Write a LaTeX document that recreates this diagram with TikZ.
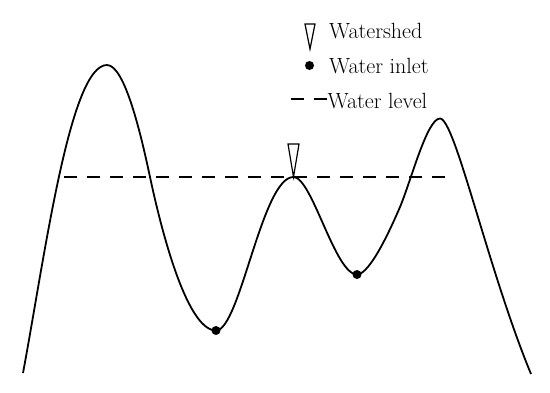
\documentclass[tikz,border=0pt]{standalone}
\usepackage{tikz}

\begin{document}
\begin{tikzpicture}[
    x=1pt, y=-1pt,
    ridge/.style={line width=1.8pt, line join=round},
    level/.style={line width=1.7pt, dash pattern=on 13.3pt off 9.7pt},
    inlet/.style={circle, fill=black, inner sep=0pt, minimum size=9pt},
    shed/.style={draw, line width=1.2pt, fill=white, line join=miter},
    legendtext/.style={anchor=base west, inner sep=0pt, font=\fontsize{22}{26}\selectfont}
]
\useasboundingbox (0,0) rectangle (550,392);

\coordinate (footL) at (23,373);
\coordinate (peakL) at (107,65);
\coordinate (lowA) at (216,330.5);
\coordinate (ridgetop) at (293.5,177);
\coordinate (lowB) at (357,274.5);
\coordinate (peakR) at (440,118.5);
\coordinate (footR) at (531,374);
\coordinate (levelL) at (64,177);
\coordinate (levelR) at (453,177);

% terrain profile
\draw[ridge] (footL) .. controls (45,255) and (70,65) .. (peakL)
    .. controls (125,65) and (141.5,137) .. (150,177)
    .. controls (158.5,217) and (185,330.5) .. (lowA)
    .. controls (240,330.5) and (262,177) .. (ridgetop)
    .. controls (312,177) and (335,274.5) .. (lowB)
    .. controls (370,274.5) and (391,228) .. (400,207)
    .. controls (411,181) and (427,118.5) .. (peakR)
    .. controls (455,118.5) and (488,270) .. (footR);

% water level
\draw[level] (levelL) -- (levelR);

% water inlets
\node[inlet] (inletA) at (lowA) {};
\node[inlet] (inletB) at (lowB) {};

% watershed marker
\draw[shed] (ridgetop) -- ++(-5.5,-33) -- ++(11,0) -- cycle;

% legend
\draw[shed] (310,49) -- ++(-5,-25) -- ++(10,0) -- cycle;
\node[legendtext] (shedtext) at (329,38) {Watershed};

\node[inlet] (inletkey) at (309.5,65.5) {};
\node[legendtext] (inlettext) at (329,73) {Water inlet};

\draw[line width=1.7pt] (290.5,99) -- (303.5,99);
\draw[line width=1.7pt] (313.5,99) -- (326.5,99);
\node[legendtext] (leveltext) at (327.5,108) {Water level};

\end{tikzpicture}
\end{document}
